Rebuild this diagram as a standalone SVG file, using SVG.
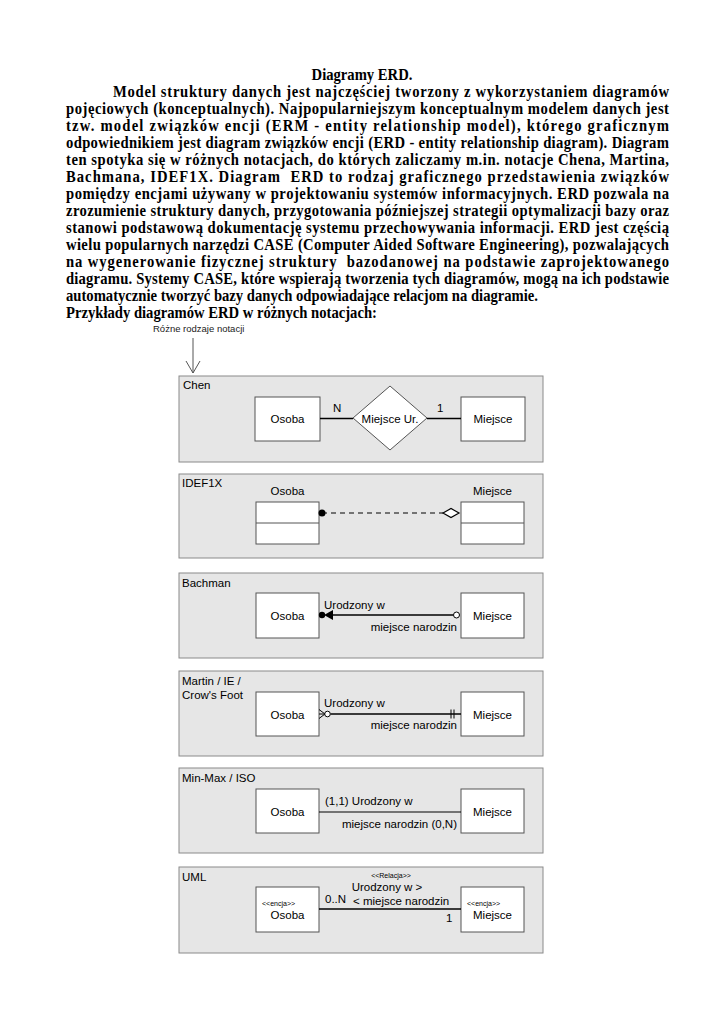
<svg xmlns="http://www.w3.org/2000/svg" width="724" height="1024" viewBox="0 0 724 1024">
<defs>
<style>
.t{font-family:"Liberation Serif","Times New Roman",serif;font-weight:bold;font-size:16px;fill:#000}
.s{font-family:"Liberation Sans",Arial,sans-serif;font-size:11.5px;fill:#000}
.sm{font-family:"Liberation Sans",Arial,sans-serif;font-size:7px;fill:#000}
.panel{fill:#e6e6e6;stroke:#8a8a8a;stroke-width:1}
.box{fill:#fff;stroke:#555;stroke-width:1}
.ln{stroke:#000;stroke-width:1.4;fill:none}
</style>
</defs>
<rect width="724" height="1024" fill="#fff"/>
<g id="text" transform="translate(66,0) scale(0.915,1)">
<text class="t" x="323.5" y="80" text-anchor="middle">Diagramy ERD.</text>
<text class="t" x="51.4" y="97" textLength="607.7" lengthAdjust="spacing">Model struktury danych jest najczęściej tworzony z wykorzystaniem diagramów</text>
<text class="t" x="0" y="114" textLength="659" lengthAdjust="spacing">pojęciowych (konceptualnych). Najpopularniejszym konceptualnym modelem danych jest</text>
<text class="t" x="0" y="131" textLength="659" lengthAdjust="spacing">tzw. model związków encji (ERM - entity relationship model), którego graficznym</text>
<text class="t" x="0" y="148" textLength="659" lengthAdjust="spacing">odpowiednikiem jest diagram związków encji (ERD - entity relationship diagram). Diagram</text>
<text class="t" x="0" y="165" textLength="659" lengthAdjust="spacing">ten spotyka się w różnych notacjach, do których zaliczamy m.in. notacje Chena, Martina,</text>
<text class="t" x="0" y="182" textLength="659" lengthAdjust="spacing" xml:space="preserve">Bachmana, IDEF1X. Diagram  ERD to rodzaj graficznego przedstawienia związków</text>
<text class="t" x="0" y="199" textLength="659" lengthAdjust="spacing">pomiędzy encjami używany w projektowaniu systemów informacyjnych. ERD pozwala na</text>
<text class="t" x="0" y="216" textLength="659" lengthAdjust="spacing">zrozumienie struktury danych, przygotowania późniejszej strategii optymalizacji bazy oraz</text>
<text class="t" x="0" y="233" textLength="659" lengthAdjust="spacing">stanowi podstawową dokumentację systemu przechowywania informacji. ERD jest częścią</text>
<text class="t" x="0" y="250" textLength="659" lengthAdjust="spacing">wielu popularnych narzędzi CASE (Computer Aided Software Engineering), pozwalających</text>
<text class="t" x="0" y="267" textLength="659" lengthAdjust="spacing" xml:space="preserve">na wygenerowanie fizycznej struktury  bazodanowej na podstawie zaprojektowanego</text>
<text class="t" x="0" y="284" textLength="659" lengthAdjust="spacing">diagramu. Systemy CASE, które wspierają tworzenia tych diagramów, mogą na ich podstawie</text>
<text class="t" x="0" y="301">automatycznie tworzyć bazy danych odpowiadające relacjom na diagramie.</text>
<text class="t" x="0" y="318">Przykłady diagramów ERD w różnych notacjach:</text>
</g>
<g id="note">
<text x="153" y="332" font-family="Liberation Sans, Arial, sans-serif" font-size="9.5" fill="#222">Różne rodzaje notacji</text>
<path d="M193,338 V373 M186,361 L193,373 L200,361" stroke="#555" stroke-width="1" fill="none"/>
</g>
<g id="chen">
<rect class="panel" x="179" y="376" width="364" height="86"/>
<text class="s" x="183" y="389">Chen</text>
<rect class="box" x="255" y="397" width="65" height="44"/>
<text class="s" x="287.5" y="423" text-anchor="middle">Osoba</text>
<polygon points="390,386 427,418 390,450 353,418" fill="#fff" stroke="#555"/>
<text class="s" x="390" y="423" text-anchor="middle">Miejsce Ur.</text>
<rect class="box" x="461" y="397" width="64" height="44"/>
<text class="s" x="493" y="423" text-anchor="middle">Miejsce</text>
<path class="ln" d="M320,418.5 H353 M427,418.5 H461"/>
<text class="s" x="333" y="412">N</text>
<text class="s" x="437" y="412">1</text>
</g>
<g id="idef1x">
<rect class="panel" x="179" y="474" width="364" height="84"/>
<text class="s" x="182" y="487">IDEF1X</text>
<text class="s" x="287.5" y="495" text-anchor="middle">Osoba</text>
<rect class="box" x="256" y="502" width="63" height="42"/>
<line x1="256" y1="523" x2="319" y2="523" stroke="#555"/>
<text class="s" x="492.5" y="495" text-anchor="middle">Miejsce</text>
<rect class="box" x="461" y="502" width="63" height="42"/>
<line x1="461" y1="523" x2="524" y2="523" stroke="#555"/>
<path d="M322,513 H443" stroke="#000" stroke-width="1.2" stroke-dasharray="5,4"/>
<circle cx="322" cy="513" r="3.5" fill="#000"/>
<polygon points="443,513 451,508.5 459,513 451,517.5" fill="#fff" stroke="#000" stroke-width="1.2"/>
</g>
<g id="bachman">
<rect class="panel" x="179" y="573" width="364" height="85"/>
<text class="s" x="182" y="587">Bachman</text>
<rect class="box" x="256" y="593" width="63" height="45"/>
<text class="s" x="287.5" y="620" text-anchor="middle">Osoba</text>
<rect class="box" x="461" y="593" width="63" height="45"/>
<text class="s" x="492.5" y="620" text-anchor="middle">Miejsce</text>
<path class="ln" d="M332,615 H453.5"/>
<circle cx="322" cy="615" r="3.2" fill="#000"/>
<polygon points="324,615 333,610 333,620" fill="#000"/>
<circle cx="456.5" cy="615" r="3" fill="#fff" stroke="#000" stroke-width="1"/>
<text class="s" x="324" y="609">Urodzony w</text>
<text class="s" x="457" y="631" text-anchor="end">miejsce narodzin</text>
</g>
<g id="martin">
<rect class="panel" x="179" y="671" width="364" height="85"/>
<text class="s" x="182" y="685">Martin / IE /</text>
<text class="s" x="182" y="699">Crow's Foot</text>
<rect class="box" x="256" y="692" width="63" height="44"/>
<text class="s" x="287.5" y="719" text-anchor="middle">Osoba</text>
<rect class="box" x="461" y="692" width="63" height="44"/>
<text class="s" x="492.5" y="719" text-anchor="middle">Miejsce</text>
<path class="ln" d="M330.5,714 H461"/>
<path d="M319,709.5 L325,714 L319,718.5 M319,714 H325" stroke="#000" stroke-width="1" fill="none"/>
<circle cx="327.5" cy="714" r="2.8" fill="#fff" stroke="#000" stroke-width="1"/>
<path d="M451,709.5 V718.5 M454,709.5 V718.5" stroke="#000" stroke-width="1"/>
<text class="s" x="324" y="707">Urodzony w</text>
<text class="s" x="457" y="729" text-anchor="end">miejsce narodzin</text>
</g>
<g id="minmax">
<rect class="panel" x="179" y="768" width="364" height="85"/>
<text class="s" x="182" y="782">Min-Max / ISO</text>
<rect class="box" x="256" y="789" width="63" height="44"/>
<text class="s" x="287.5" y="816" text-anchor="middle">Osoba</text>
<rect class="box" x="461" y="789" width="63" height="44"/>
<text class="s" x="492.5" y="816" text-anchor="middle">Miejsce</text>
<path d="M319,812 H461" stroke="#000" stroke-width="1.2"/>
<text class="s" x="325" y="805">(1,1) Urodzony w</text>
<text class="s" x="457" y="828" text-anchor="end">miejsce narodzin (0,N)</text>
</g>
<g id="uml">
<rect class="panel" x="179" y="867" width="364" height="86"/>
<text class="s" x="182" y="881">UML</text>
<rect class="box" x="256" y="887" width="63" height="45"/>
<text class="sm" x="262" y="906">&lt;&lt;encja&gt;&gt;</text>
<text class="s" x="287.5" y="919" text-anchor="middle">Osoba</text>
<rect class="box" x="461" y="887" width="63" height="45"/>
<text class="sm" x="467" y="906">&lt;&lt;encja&gt;&gt;</text>
<text class="s" x="492.5" y="919" text-anchor="middle">Miejsce</text>
<path d="M319,909 H461" stroke="#000" stroke-width="1.4"/>
<text class="sm" x="391" y="878" text-anchor="middle">&lt;&lt;Relacja&gt;&gt;</text>
<text class="s" x="387" y="891" text-anchor="middle">Urodzony w &gt;</text>
<text class="s" x="353" y="905">&lt; miejsce narodzin</text>
<text class="s" x="325" y="903">0..N</text>
<text class="s" x="446" y="922">1</text>
</g>
</svg>
